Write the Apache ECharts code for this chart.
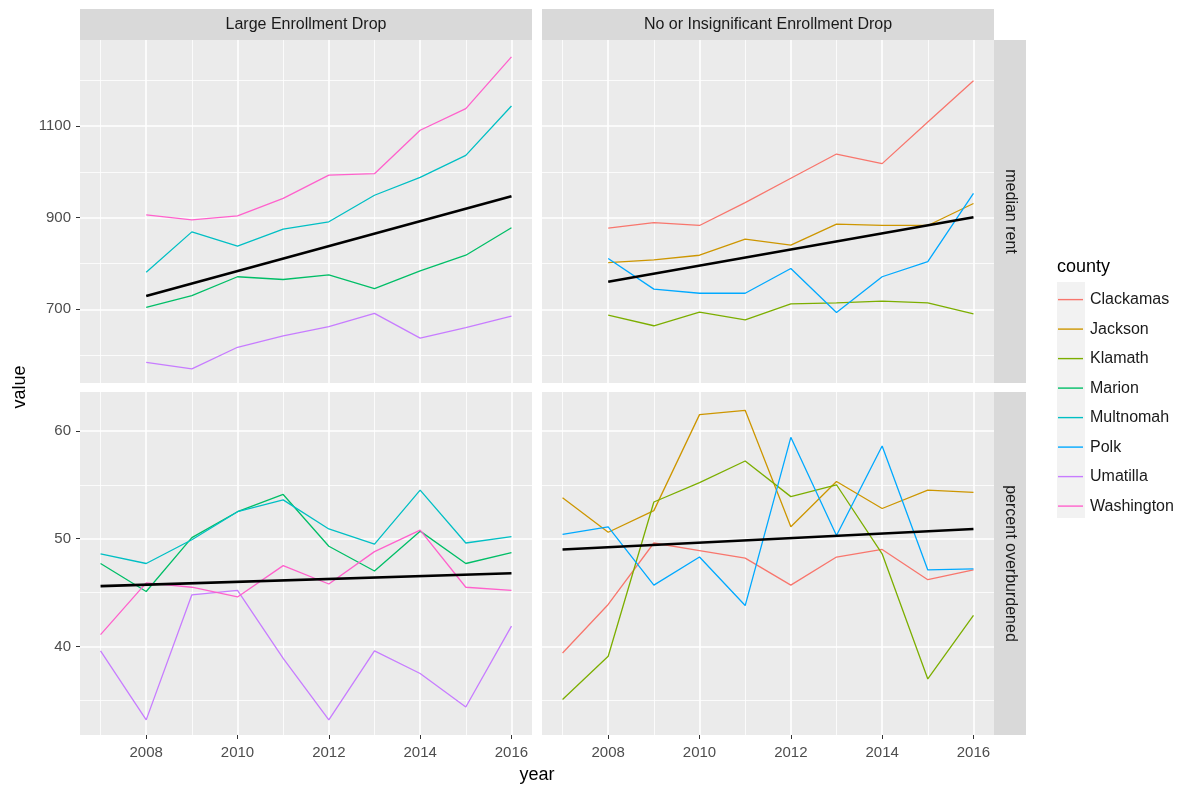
<!DOCTYPE html>
<html><head><meta charset="utf-8">
<script src="https://cdn.jsdelivr.net/npm/echarts@6/dist/echarts.min.js"></script>
<style>html,body{margin:0;padding:0;background:#fff}#c{width:1180px;height:790px}</style>
</head><body><div id="c"></div>
<script>
// ---------- data ----------
const counties = ['Clackamas','Jackson','Klamath','Marion','Multnomah','Polk','Umatilla','Washington'];
const countyColors = ['#F8766D','#CD9600','#7CAE00','#00BE67','#00BFC4','#00A9FF','#C77CFF','#FF61CC'];
const facetCols = ['Large Enrollment Drop','No or Insignificant Enrollment Drop'];
const facetRows = ['median rent','percent overburdened'];
const largeDropCounties = ['Marion','Multnomah','Umatilla','Washington'];
const smallDropCounties = ['Clackamas','Jackson','Klamath','Polk'];
const rentYears = [2008,2009,2010,2011,2012,2013,2014,2015,2016];
const burdenYears = [2007,2008,2009,2010,2011,2012,2013,2014,2015,2016];

// median rent
const rentMarion     = [704,730,771,765,775,745,784,818,878];
const rentMultnomah  = [781,869,838,875,891,949,988,1036,1144];
const rentUmatilla   = [584,570,617,642,662,691,637,660,685];
const rentWashington = [906,895,904,942,993,996,1091,1138,1251];
const rentClackamas  = [877,889,883,933,986,1039,1018,1109,1199];
const rentJackson    = [802,808,818,853,840,886,883,883,931];
const rentKlamath    = [687,664,694,677,712,714,718,714,690];
const rentPolk       = [811,744,735,735,789,693,771,804,953];

// percent overburdened
const burdenMarion     = [47.7,45.1,50.1,52.5,54.1,49.3,47.0,50.7,47.7,48.7];
const burdenMultnomah  = [48.6,47.7,49.9,52.5,53.6,50.9,49.5,54.5,49.6,50.2];
const burdenUmatilla   = [39.6,33.2,44.8,45.2,38.9,33.2,39.6,37.5,34.4,41.9];
const burdenWashington = [41.1,45.9,45.5,44.6,47.5,45.8,48.8,50.8,45.5,45.2];
const burdenClackamas  = [39.4,43.9,49.6,48.9,48.2,45.7,48.3,49.0,46.2,47.1];
const burdenJackson    = [53.8,50.6,52.6,61.5,61.9,51.1,55.3,52.8,54.5,54.3];
const burdenKlamath    = [35.1,39.1,53.4,55.2,57.2,53.9,55.0,48.6,37.0,42.9];
const burdenPolk       = [50.4,51.1,45.7,48.3,43.8,59.4,50.3,58.6,47.1,47.2];

// linear trend endpoints (first year, last year)
const trendRentLarge   = [729, 947];
const trendRentSmall   = [760, 901];
const trendBurdenLarge = [45.6, 46.8];
const trendBurdenSmall = [49.0, 50.9];

// ticks
const xTicks = [2008,2010,2012,2014,2016];
const xMinor = [2007,2009,2011,2013,2015];
const rentTicks = [700,900,1100];
const rentMinor = [600,800,1000,1200];
const burdenTicks = [40,50,60];
const burdenMinor = [35,45,55];

// ---------- build ----------
const rentData = {Marion:rentMarion,Multnomah:rentMultnomah,Umatilla:rentUmatilla,Washington:rentWashington,
  Clackamas:rentClackamas,Jackson:rentJackson,Klamath:rentKlamath,Polk:rentPolk};
const burdenData = {Marion:burdenMarion,Multnomah:burdenMultnomah,Umatilla:burdenUmatilla,Washington:burdenWashington,
  Clackamas:burdenClackamas,Jackson:burdenJackson,Klamath:burdenKlamath,Polk:burdenPolk};

const FONT = 'Liberation Sans, Arial, sans-serif';
const X_MIN = 2006.55, X_MAX = 2016.45;
const RENT_MIN = 539, RENT_MAX = 1288;
const BURDEN_MIN = 31.8, BURDEN_MAX = 63.6;

const panels = [
  {left:80, top:40, row:0, col:0},
  {left:542, top:40, row:0, col:1},
  {left:80, top:392, row:1, col:0},
  {left:542, top:392, row:1, col:1}
];
const PW = 452, PH = 343;

const grids = [], xAxes = [], yAxes = [], series = [];
panels.forEach((p, g) => {
  grids.push({left:p.left, top:p.top, width:PW, height:PH, show:true, backgroundColor:'#EBEBEB', borderWidth:0, containLabel:false});
  const bottom = p.row === 1, leftCol = p.col === 0;
  xAxes.push({
    gridIndex:g, type:'value', min:X_MIN, max:X_MAX,
    axisLine:{show:false}, splitLine:{show:false},
    axisTick:{show:bottom, customValues:xTicks, length:4, lineStyle:{color:'#333333', width:1}},
    axisLabel:{show:bottom, customValues:xTicks, color:'#4D4D4D', fontSize:15, margin:10, fontFamily:FONT, formatter:v=>String(v)}
  });
  const yt = p.row === 0 ? rentTicks : burdenTicks;
  yAxes.push({
    gridIndex:g, type:'value',
    min: p.row === 0 ? RENT_MIN : BURDEN_MIN, max: p.row === 0 ? RENT_MAX : BURDEN_MAX,
    axisLine:{show:false}, splitLine:{show:false},
    axisTick:{show:leftCol, customValues:yt, length:4, lineStyle:{color:'#333333', width:1}},
    axisLabel:{show:leftCol, customValues:yt, color:'#4D4D4D', fontSize:15, margin:9, fontFamily:FONT, formatter:v=>String(v)}
  });
  // grid lines through the axes' own scales
  const ym = p.row === 0 ? rentMinor : burdenMinor;
  const ml = [];
  xMinor.forEach(v => ml.push({xAxis:v, lineStyle:{width:0.8}}));
  ym.forEach(v => ml.push({yAxis:v, lineStyle:{width:0.8}}));
  xTicks.forEach(v => ml.push({xAxis:v, lineStyle:{width:1.6}}));
  yt.forEach(v => ml.push({yAxis:v, lineStyle:{width:1.6}}));
  series.push({
    type:'line', name:'_grid'+g, xAxisIndex:g, yAxisIndex:g, data:[], z:1, silent:true,
    markLine:{silent:true, z:1, symbol:['none','none'], animation:false, label:{show:false},
      lineStyle:{color:'#FFFFFF', type:'solid'}, emphasis:{disabled:true}, data:ml}
  });
  const group = p.col === 0 ? largeDropCounties : smallDropCounties;
  const years = p.row === 0 ? rentYears : burdenYears;
  const src = p.row === 0 ? rentData : burdenData;
  group.forEach(c => {
    const color = countyColors[counties.indexOf(c)];
    series.push({
      type:'line', name:c, xAxisIndex:g, yAxisIndex:g, z:8,
      symbol:'none', showSymbol:false, animation:false,
      lineStyle:{width:1.3, color:color}, itemStyle:{color:color},
      emphasis:{disabled:true},
      data: years.map((y,i)=>[y, src[c][i]])
    });
  });
  const tr = p.row === 0 ? (p.col === 0 ? trendRentLarge : trendRentSmall) : (p.col === 0 ? trendBurdenLarge : trendBurdenSmall);
  series.push({
    type:'line', name:'trend', xAxisIndex:g, yAxisIndex:g, z:9,
    symbol:'none', showSymbol:false, animation:false,
    lineStyle:{width:2.6, color:'#000000'}, itemStyle:{color:'#000000'},
    emphasis:{disabled:true},
    data:[[years[0], tr[0]], [years[years.length-1], tr[1]]]
  });
});

const graphic = [
  {type:'rect', shape:{x:80, y:9, width:PW, height:31}, style:{fill:'#D9D9D9'}, z:0},
  {type:'rect', shape:{x:542, y:9, width:PW, height:31}, style:{fill:'#D9D9D9'}, z:0},
  {type:'text', x:80+PW/2, y:25, style:{text:facetCols[0], fontSize:16, fontFamily:FONT, fill:'#1A1A1A', align:'center', verticalAlign:'middle'}},
  {type:'text', x:542+PW/2, y:25, style:{text:facetCols[1], fontSize:16, fontFamily:FONT, fill:'#1A1A1A', align:'center', verticalAlign:'middle'}},
  {type:'rect', shape:{x:994, y:40, width:32, height:PH}, style:{fill:'#D9D9D9'}, z:0},
  {type:'rect', shape:{x:994, y:392, width:32, height:PH}, style:{fill:'#D9D9D9'}, z:0},
  {type:'text', x:1010, y:40+PH/2, rotation:-Math.PI/2, style:{text:facetRows[0], fontSize:16, fontFamily:FONT, fill:'#1A1A1A', align:'center', verticalAlign:'middle'}},
  {type:'text', x:1010, y:392+PH/2, rotation:-Math.PI/2, style:{text:facetRows[1], fontSize:16, fontFamily:FONT, fill:'#1A1A1A', align:'center', verticalAlign:'middle'}},
  {type:'text', x:20, y:387, rotation:Math.PI/2, style:{text:'value', fontSize:18, fontFamily:FONT, fill:'#000000', align:'center', verticalAlign:'middle'}},
  {type:'text', x:537, y:775, style:{text:'year', fontSize:18, fontFamily:FONT, fill:'#000000', align:'center', verticalAlign:'middle'}},
  {type:'text', x:1057, y:267, style:{text:'county', fontSize:18, fontFamily:FONT, fill:'#000000', align:'left', verticalAlign:'middle'}},
  {type:'rect', shape:{x:1057, y:282, width:28, height:236}, style:{fill:'#F2F2F2'}, z:0}
];

const chart = echarts.init(document.getElementById('c'), null, {renderer:'canvas'});
chart.setOption({
  animation:false,
  backgroundColor:'#FFFFFF',
  textStyle:{fontFamily:FONT},
  grid:grids, xAxis:xAxes, yAxis:yAxes, series:series,
  graphic:graphic,
  legend:{
    data:counties, orient:'vertical', left:1058, top:290.6, padding:0,
    icon:'rect', itemWidth:25, itemHeight:1.4, itemGap:11.5, selectedMode:false, z:10,
    textStyle:{fontSize:16, color:'#1A1A1A', fontFamily:FONT, lineHeight:18, padding:[0,0,0,2]}
  },
  tooltip:{show:false}
});
</script></body></html>
